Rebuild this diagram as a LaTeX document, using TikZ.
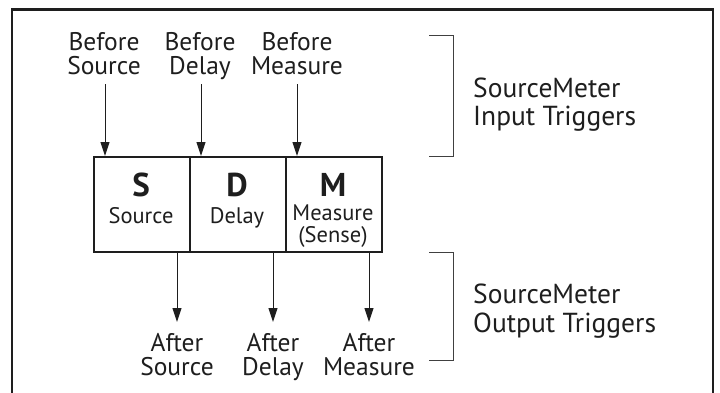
\documentclass[tikz,border=0pt]{standalone}
\usepackage{fontspec}
\setmainfont{PT Sans}
\usetikzlibrary{arrows.meta}
\definecolor{ink}{HTML}{1E1E1E}
\tikzset{
  lbl/.style={anchor=base, inner sep=0pt, font=\fontsize{25.5}{26}\selectfont, text=ink},
  big/.style={anchor=base west, inner sep=0pt, font=\fontsize{27.5}{29}\selectfont, text=ink},
  blk/.style={draw=ink, line width=1.8pt, minimum width=96pt, minimum height=95pt, inner sep=0pt, anchor=north west},
  boxtxt/.style={anchor=base, inner sep=0pt, font=\fontsize{22.5}{23}\selectfont, text=ink},
  letter/.style={anchor=base, inner sep=0pt, font=\fontsize{33}{33}\bfseries\selectfont, text=ink},
  trig/.style={draw=ink, line width=1pt, -{Triangle[length=14pt, width=9pt]}},
  brk/.style={draw=ink!85, line width=0.9pt}
}
\begin{document}
\begin{tikzpicture}[x=1pt, y=-1pt]
\useasboundingbox (0,0) rectangle (720,392);
% frame
\draw[ink, line width=2.4pt] (12,420) -- (12,9.5) -- (712.7,9.5) -- (712.7,420);
% blocks
\node[blk] (S) at (93,156) {};
\node[blk] (D) at (189,156) {};
\node[blk] (M) at (285,156) {};
\node[letter] (Sl) at (141,196) {S};
\node[letter] (Dl) at (237,196) {D};
\node[letter] (Ml) at (333,196) {M};
\node[boxtxt] (St) at (141,223) {Source};
\node[boxtxt] (Dt) at (237,223) {Delay};
\node[boxtxt] (Mt) at (333,220) {Measure};
\node[boxtxt] (Mt2) at (333,242) {(Sense)};
% input labels
\node[lbl] (bs) at (104,50) {Before};
\node[lbl] (bs2) at (104,74) {Source};
\node[lbl] (bd) at (200,50) {Before};
\node[lbl] (bd2) at (200,74) {Delay};
\node[lbl] (bm) at (297,50) {Before};
\node[lbl] (bm2) at (297,74) {Measure};
% output labels
\node[lbl] (as) at (177,351) {After};
\node[lbl] (as2) at (177,375) {Source};
\node[lbl] (ad) at (273,351) {After};
\node[lbl] (ad2) at (273,375) {Delay};
\node[lbl] (am) at (369,351) {After};
\node[lbl] (am2) at (369,375) {Measure};
% anchor coordinates
\coordinate (bs0) at (105,84);
\coordinate (bd0) at (201,84);
\coordinate (bm0) at (297,84);
\coordinate (bs1) at (105,156);
\coordinate (bd1) at (201,156);
\coordinate (bm1) at (297,156);
\coordinate (as0) at (177,252);
\coordinate (ad0) at (273,252);
\coordinate (am0) at (369,252);
\coordinate (as1) at (177,322);
\coordinate (ad1) at (273,322);
\coordinate (am1) at (369,322);
\draw[trig] (bs0) -- (bs1);
\draw[trig] (bd0) -- (bd1);
\draw[trig] (bm0) -- (bm1);
\draw[trig] (as0) -- (as1);
\draw[trig] (ad0) -- (ad1);
\draw[trig] (am0) -- (am1);
% brackets
\draw[brk] (429,35) -- (453,35) -- (453,156) -- (429,156);
\draw[brk] (429,252) -- (453,252) -- (453,360) -- (429,360);
\node[big] (inp) at (473,97) {SourceMeter};
\node[big] (inp2) at (473,125) {Input Triggers};
\node[big] (outp) at (473,303) {SourceMeter};
\node[big] (outp2) at (473,332) {Output Triggers};
\end{tikzpicture}
\end{document}
